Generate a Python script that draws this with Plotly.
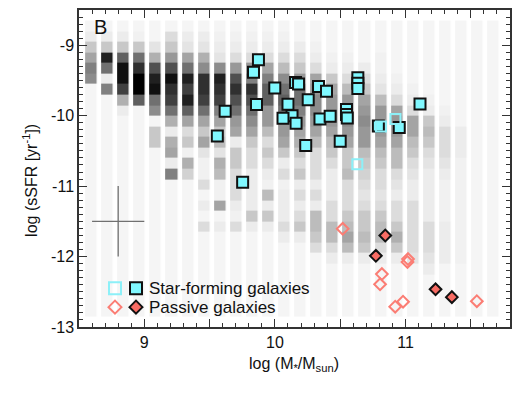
import plotly.graph_objects as go

# ---------------- data ----------------
# stellar-mass bin centres (log Msun) of the background density map
MASS_BINS = [8.593, 8.716, 8.839, 8.962, 9.086, 9.209, 9.332, 9.455, 9.578, 9.702,
             9.825, 9.948, 10.071, 10.194, 10.318, 10.441, 10.564, 10.687, 10.810, 10.934,
             11.057, 11.180, 11.303, 11.426, 11.550, 11.673]
# sSFR bin centres (log yr^-1), top to bottom
SSFR_BINS = [-8.725, -8.875, -9.025, -9.175, -9.325, -9.475, -9.625, -9.775, -9.925, -10.075,
             -10.225, -10.375, -10.525, -10.675, -10.825, -10.975, -11.125, -11.275, -11.425, -11.575,
             -11.725, -11.875, -12.025, -12.175, -12.325, -12.475, -12.625, -12.775]

# grey-level density (0 = empty, 10 = darkest), one list per mass bin, top to bottom
DENSITY_COLS = [
    [0, 1, 3, 4.5, 6, 5.5, 0, 0, 0, 0, 0, 0, 0, 0, 0, 0, 0, 0, 0, 0, 0, 0, 0, 0, 0, 0, 0, 0],
    [0, 1, 3, 9, 6.5, 1, 6, 0, 0, 0, 0, 0, 0, 0, 0, 0, 0, 0, 0, 0, 0, 0, 0, 0, 0, 0, 0, 0],
    [0, 1, 3, 7, 9.5, 9.5, 8, 4, 1, 0, 0, 0, 0, 0, 0, 0, 0, 0, 0, 0, 0, 0, 0, 0, 0, 0, 0, 0],
    [0, 0.5, 3, 6.5, 8.5, 10, 10, 7, 0, 0, 0, 0, 0, 0, 0, 0, 0, 0, 0, 0, 0, 0, 0, 0, 0, 0, 0, 0],
    [0, 0, 1.5, 4, 7.5, 9, 9.5, 6.5, 5.5, 0, 3, 3, 0, 0, 0, 0, 0, 0, 0, 0, 0, 0, 0, 0, 0, 0, 0, 0],
    [0, 2, 3, 5, 7.5, 9.5, 8.5, 8, 6.5, 4, 1, 4, 4.5, 1, 6, 0, 0, 0, 0, 0, 0, 0, 0, 0, 0, 0, 0, 0],
    [0, 1, 1.5, 4.5, 6.5, 9, 8, 9, 7, 4.5, 2, 3, 0.5, 4, 2.5, 0, 0, 0, 0, 0, 0, 0, 0, 0, 0, 0, 0, 0],
    [0, 1, 1.5, 4, 5.5, 8.5, 8.5, 8, 6.5, 4.5, 3, 4.5, 1.5, 0.5, 0.5, 2, 0, 1, 0, 2, 0, 0, 0, 0, 0, 0, 0, 0],
    [0, 0.5, 1, 1.5, 5.5, 9, 8.5, 8, 6, 4.5, 3, 3.5, 1.5, 4, 3.5, 0.5, 0.5, 4.5, 0, 1, 0, 0, 0, 0, 0, 0, 0, 0],
    [0, 0.5, 1, 2, 5, 7.5, 8.5, 7.5, 6.5, 5, 4.5, 1, 3, 3, 2, 2, 2, 1, 0.5, 2, 0, 0, 0, 0, 0, 0, 0, 0],
    [0, 0.5, 1, 2, 5, 6, 8.5, 7.5, 6.5, 5.5, 4.5, 3, 2, 2, 1, 1, 1, 1, 3, 1, 0, 0, 0, 0, 0, 0, 0, 0],
    [0, 0.5, 1, 2, 4.5, 6, 7, 7, 5, 5, 3.5, 2, 3, 2, 1, 0.5, 3.5, 1, 3, 1, 0, 0, 0, 0, 0, 0, 0, 0],
    [0, 0.5, 1, 2, 3.5, 5.5, 6.5, 7, 6.5, 5, 5, 4.5, 3, 1, 2, 0.5, 1, 1, 1, 2, 1, 0, 0, 0, 0, 0, 0, 0],
    [0, 0, 1, 2, 3, 5, 6.5, 6.5, 6, 5, 4.5, 4, 3, 2, 3, 1, 2, 1, 2, 3, 1, 0, 0, 0, 0, 0, 0, 0],
    [0, 0, 0.5, 1, 2, 4.5, 5, 5.5, 5.5, 5, 4.5, 3.5, 2, 2, 2, 1, 2, 1, 3.5, 3.5, 3, 2, 0, 0, 0, 0, 0, 0],
    [0, 0, 0, 0.5, 1, 3, 4.5, 5, 5, 5, 4.5, 3.5, 3, 2, 1, 1, 1, 2, 2, 3.5, 3.5, 2, 1, 0, 0, 0, 0, 0],
    [0, 0, 0, 0.5, 1, 2, 3.5, 5, 5, 5.5, 5, 4.5, 3, 3, 3.5, 2, 2, 2, 3, 3.5, 4.5, 3.5, 1, 0, 0, 0, 0, 0],
    [0, 0, 0, 0, 1, 2, 3, 4.5, 5, 5.5, 5, 5, 3.5, 3, 2.5, 2, 1.5, 2, 3, 3, 3.5, 3, 1, 0, 0, 0, 0, 0],
    [0, 0, 0, 0.5, 0.5, 1, 1.5, 3.5, 5, 5, 5, 4.5, 3.5, 3, 2, 2, 1.5, 2, 3, 3.5, 3.5, 2, 1, 0, 0, 0, 0, 0],
    [0, 0, 0, 0, 0, 0.5, 1, 2, 4.5, 5, 5, 4.5, 3.5, 3.5, 2, 1.5, 1, 2, 2, 3, 4, 3, 1, 0, 0, 0, 0, 0],
    [0, 0, 0, 0, 0, 0, 0.5, 1, 2, 4.5, 4.5, 3.5, 3, 2, 1.5, 1, 1, 2, 2, 2, 2, 2, 1.5, 0, 0, 0, 0, 0],
    [0, 0, 0, 0, 0, 0, 0, 0.5, 1, 3, 3.5, 3, 2, 1.5, 1, 1, 1, 1, 1, 2, 2, 2, 1.5, 1, 0, 0, 0, 0],
    [0, 0, 0, 0, 0, 0, 0, 0, 0.5, 1, 2, 2, 2, 1.5, 1, 0.5, 0.5, 0.5, 0.5, 1, 1, 1, 1, 0, 0, 0, 0, 0],
    [0, 0, 0, 0, 0, 0, 0, 0, 0, 0, 1, 1, 1, 0.5, 0.5, 0.5, 0.5, 0.5, 0.5, 0.5, 0.5, 0.5, 0.5, 0, 0, 0, 0, 0],
    [0, 0, 0, 0, 0, 0, 0, 0, 0, 0, 0, 0, 0, 0, 0, 0, 0, 0, 0, 0, 0, 0, 0, 0, 0, 0, 0, 0],
    [0, 0, 0, 0, 0, 0, 0, 0, 0, 0, 0, 0, 0, 0, 0, 0, 0, 0, 0, 0, 0, 0, 0, 0, 0, 0, 0, 0],
]

# star-forming galaxies (filled = detections, open = others)
SF_X = [9.874, 9.836, 9.999, 10.158, 10.181, 10.334, 10.395, 10.635, 10.635, 10.635,
        10.255, 9.859, 10.100, 9.619, 10.131, 10.062, 10.162, 10.345, 10.423, 10.548,
        10.548, 10.554, 10.500, 10.236, 9.559, 9.753, 10.792, 10.952, 11.111]
SF_Y = [-9.207, -9.383, -9.608, -9.528, -9.549, -9.585, -9.655, -9.461, -9.539, -9.613,
        -9.775, -9.841, -9.838, -9.939, -10.000, -10.035, -10.108, -10.049, -10.010, -9.911,
        -9.982, -10.032, -10.362, -10.425, -10.290, -10.944, -10.145, -10.169, -9.835]
SF_OPEN_X = [10.812, 10.923, 10.631]
SF_OPEN_Y = [-10.155, -10.049, -10.690]

# passive galaxies
PAS_X = [10.845, 10.773, 11.230, 11.355]
PAS_Y = [-11.701, -11.990, -12.465, -12.576]
PAS_OPEN_X = [10.519, 11.019, 11.015, 10.819, 10.805, 10.981, 10.921, 11.546]
PAS_OPEN_Y = [-11.606, -12.035, -12.077, -12.249, -12.394, -12.641, -12.711, -12.634]

# typical error bar
ERR_X, ERR_Y, ERR_DX, ERR_DY = [8.8], [-11.5], [0.2], [0.5]

X_TICKS = [9, 10, 11]
X_TICKTEXT = ['9', '10', '11']
X_HALF_TICKS = [9.5, 10.5, 11.5]
Y_TICKS = [-13, -12, -11, -10, -9]
Y_TICKTEXT = ['-13', '-12', '-11', '-10', '-9']
LEGEND_LABELS = ['Star-forming galaxies', 'Passive galaxies']
PANEL_LABEL = 'B'

# ---------------- style ----------------
FONT = 'Liberation Sans, Arial, Helvetica, sans-serif'
CYAN = '#80f8ff'
CYAN_OPEN = '#8cf0f8'
SALMON = '#f86c64'
SALMON_OPEN = '#fb7d74'
AXC = '#333333'

GRAY_SCALE = [[0.0, '#f5f5f5'], [0.1, '#ececec'], [0.2, '#dcdcdc'], [0.3, '#c8c8c8'],
              [0.4, '#b0b0b0'], [0.5, '#989898'], [0.6, '#808080'], [0.7, '#606060'],
              [0.8, '#404040'], [0.9, '#202020'], [1.0, '#000000']]

W, H = 526, 395
BODY = 8                                  # page offset of the plot div
PX0, PX1, PY0, PY1 = 79, 510, 327, 8      # wanted plot box on screen (pixels)
ML, MT = PX0 - BODY, PY1 - BODY
MR, MB = W - (PX1 - BODY), H - (PY0 - BODY)


def px_to_paper_x(p):
    return (p - PX0) / (PX1 - PX0)


def px_to_paper_y(p):
    return (PY0 - p) / (PY0 - PY1)


z = [list(r) for r in zip(*DENSITY_COLS)]

fig = go.Figure()
fig.add_trace(go.Heatmap(x=MASS_BINS, y=SSFR_BINS, z=z, colorscale=GRAY_SCALE,
                         zmin=0, zmax=10, showscale=False, xgap=4.5, ygap=0,
                         hoverinfo='skip'))

fig.add_trace(go.Scatter(x=ERR_X, y=ERR_Y, mode='markers',
                         marker=dict(size=1, color='rgba(0,0,0,0)'),
                         error_x=dict(type='data', array=ERR_DX, color='#707070', thickness=1.3, width=0),
                         error_y=dict(type='data', array=ERR_DY, color='#707070', thickness=1.3, width=0),
                         showlegend=False, hoverinfo='skip'))

fig.add_trace(go.Scatter(x=SF_X, y=SF_Y, mode='markers',
                         marker=dict(symbol='square', size=11, color=CYAN,
                                     line=dict(color='#111111', width=2)),
                         showlegend=False))
fig.add_trace(go.Scatter(x=SF_OPEN_X, y=SF_OPEN_Y, mode='markers',
                         marker=dict(symbol='square-open', size=10, color=CYAN_OPEN,
                                     line=dict(color=CYAN_OPEN, width=2)),
                         showlegend=False))
fig.add_trace(go.Scatter(x=PAS_OPEN_X, y=PAS_OPEN_Y, mode='markers',
                         marker=dict(symbol='diamond-open', size=9, color=SALMON_OPEN,
                                     line=dict(color=SALMON_OPEN, width=2)),
                         showlegend=False))
fig.add_trace(go.Scatter(x=PAS_X, y=PAS_Y, mode='markers',
                         marker=dict(symbol='diamond', size=9, color=SALMON,
                                     line=dict(color='#111111', width=2)),
                         showlegend=False))

# empty trace that carries the overlay axis for the half-unit mass ticks
fig.add_trace(go.Scatter(x=[], y=[], xaxis='x3', yaxis='y', showlegend=False, hoverinfo='skip'))

# hand-drawn legend on a pixel overlay axis
LEG_ROWS = [288, 307]
fig.add_trace(go.Scatter(x=[115], y=[LEG_ROWS[0]], xaxis='x2', yaxis='y2', mode='markers',
                         marker=dict(symbol='square-open', size=12, color=CYAN_OPEN,
                                     line=dict(color=CYAN_OPEN, width=2)), showlegend=False))
fig.add_trace(go.Scatter(x=[136], y=[LEG_ROWS[0]], xaxis='x2', yaxis='y2', mode='markers',
                         marker=dict(symbol='square', size=12, color=CYAN,
                                     line=dict(color='#111111', width=2)), showlegend=False))
fig.add_trace(go.Scatter(x=[115], y=[LEG_ROWS[1]], xaxis='x2', yaxis='y2', mode='markers',
                         marker=dict(symbol='diamond-open', size=10, color=SALMON_OPEN,
                                     line=dict(color=SALMON_OPEN, width=2)), showlegend=False))
fig.add_trace(go.Scatter(x=[136], y=[LEG_ROWS[1]], xaxis='x2', yaxis='y2', mode='markers',
                         marker=dict(symbol='diamond', size=10, color=SALMON,
                                     line=dict(color='#111111', width=2)), showlegend=False))

annotations = [
    dict(x=147, y=LEG_ROWS[0], xref='x2', yref='y2', text=LEGEND_LABELS[0], showarrow=False,
         xanchor='left', yanchor='middle', font=dict(family=FONT, size=17, color='#111')),
    dict(x=147, y=LEG_ROWS[1], xref='x2', yref='y2', text=LEGEND_LABELS[1], showarrow=False,
         xanchor='left', yanchor='middle', font=dict(family=FONT, size=17, color='#111')),
    dict(x=100, y=25, xref='x2', yref='y2', text=PANEL_LABEL, showarrow=False,
         xanchor='center', yanchor='middle', font=dict(family=FONT, size=20, color='#111')),
    dict(x=px_to_paper_x(294), y=px_to_paper_y(365), xref='paper', yref='paper',
         text='log (M<sub>*</sub>/M<sub>sun</sub>)', showarrow=False,
         xanchor='center', yanchor='middle', font=dict(family=FONT, size=16, color='#111')),
    dict(x=px_to_paper_x(30), y=px_to_paper_y(180), xref='paper', yref='paper',
         text='log (sSFR [yr<sup>-1</sup>])', showarrow=False, textangle=-90,
         xanchor='center', yanchor='middle', font=dict(family=FONT, size=16, color='#111')),
]

axis_common = dict(showgrid=False, zeroline=False, showline=True, linecolor=AXC, linewidth=1.5,
                   mirror='ticks', ticks='inside', ticklen=8, tickwidth=1.2, tickcolor=AXC,
                   tickfont=dict(family=FONT, size=16, color='#111'))

fig.update_layout(
    width=W, height=H,
    margin=dict(l=ML, r=MR, t=MT, b=MB, pad=0),
    paper_bgcolor='white', plot_bgcolor='white',
    showlegend=False,
    xaxis=dict(range=[8.5, 11.8], tickmode='array', tickvals=X_TICKS, ticktext=X_TICKTEXT,
               minor=dict(ticks='inside', ticklen=4, tickmode='linear', tick0=8.5, dtick=0.1,
                          tickcolor=AXC, tickwidth=1.0),
               **axis_common),
    yaxis=dict(range=[-13, -8.5], tickmode='array', tickvals=Y_TICKS, ticktext=Y_TICKTEXT,
               minor=dict(ticks='inside', ticklen=4, tickmode='linear', tick0=-13, dtick=0.1,
                          tickcolor=AXC, tickwidth=1.0),
               **axis_common),
    xaxis3=dict(overlaying='x', range=[8.5, 11.8], tickmode='array', tickvals=X_HALF_TICKS,
                showticklabels=False, showgrid=False, zeroline=False, showline=False,
                ticks='inside', ticklen=8, tickwidth=1.2, tickcolor=AXC, mirror='ticks',
                side='bottom', anchor='y', fixedrange=True),
    xaxis2=dict(overlaying='x', range=[PX0, PX1], visible=False, fixedrange=True),
    yaxis2=dict(overlaying='y', range=[PY0, PY1], visible=False, fixedrange=True),
    annotations=annotations,
)

fig.write_html('out.html')
